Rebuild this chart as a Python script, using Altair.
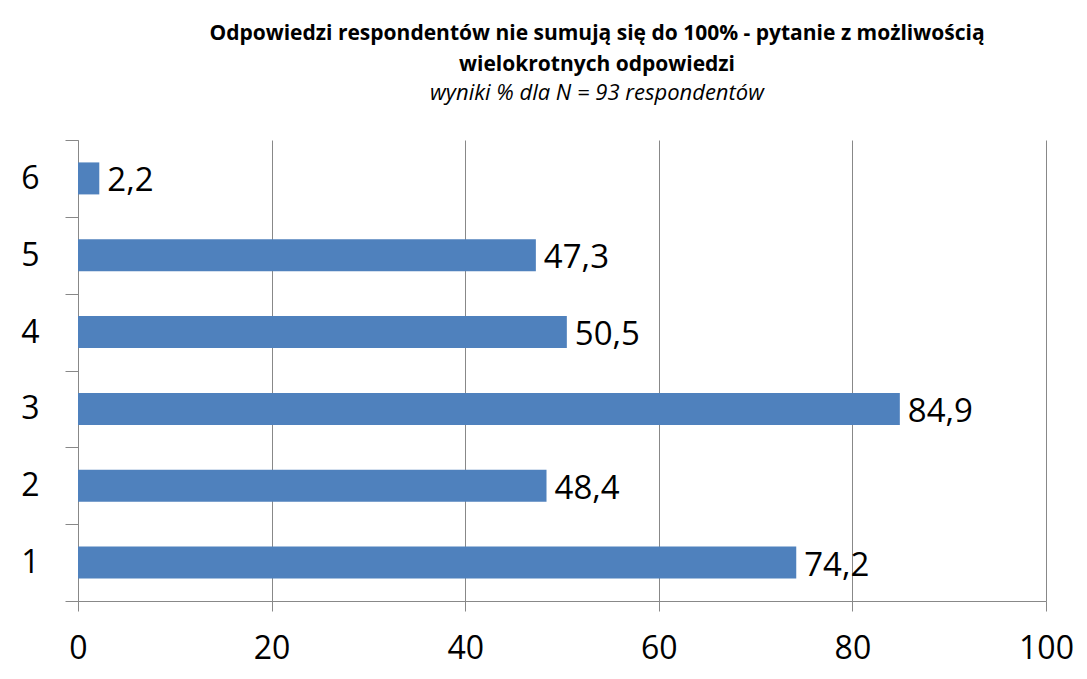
import altair as alt
import pandas as pd

categories = ["1", "2", "3", "4", "5", "6"]
values = [74.2, 48.4, 84.9, 50.5, 47.3, 2.2]
x_ticks = [0, 20, 40, 60, 80, 100]

df = pd.DataFrame({
    "cat": categories,
    "val": values,
    "label": [f"{v:.1f}".replace(".", ",") for v in values],
})

FONT = "Open Sans"
order = list(reversed(categories))

y = alt.Y(
    "cat:N",
    sort=order,
    scale=alt.Scale(paddingInner=0, paddingOuter=0),
    axis=alt.Axis(
        title=None, tickBand="extent", tickSize=13, tickColor="#888888",
        domainColor="#888888", labelFontSize=32, labelFont=FONT,
        labelColor="#000000", labelPadding=26, grid=False, labelAngle=0,
    ),
)
x = alt.X(
    "val:Q",
    scale=alt.Scale(domain=[0, 100], nice=False),
    axis=alt.Axis(
        title=None, values=x_ticks, tickSize=10, tickColor="#888888",
        domainColor="#888888", gridColor="#888888", grid=True,
        labelFontSize=32, labelFont=FONT, labelColor="#000000",
        labelPadding=22, format="d", labelFlush=False,
    ),
)

bars = alt.Chart(df).mark_bar(color="#4F81BD", size=32).encode(x=x, y=y)
labels = alt.Chart(df).mark_text(
    align="left", baseline="middle", dx=8, dy=3, fontSize=33, font=FONT, color="#000000"
).encode(x="val:Q", y=alt.Y("cat:N", sort=order), text="label:N")

chart = (bars + labels).properties(
    width=968,
    height=461,
    title=alt.TitleParams(
        text=["Odpowiedzi  respondentów nie sumują się do 100%  - pytanie z możliwością",
              "wielokrotnych odpowiedzi"],
        subtitle="wyniki % dla N = 93 respondentów",
        font=FONT, fontSize=21, fontWeight="bold", lineHeight=31,
        subtitleFont=FONT, subtitleFontSize=22, subtitleFontStyle="italic",
        subtitleColor="#000000", color="#000000", subtitlePadding=8,
        anchor="middle", dx=35, offset=20,
    ),
    autosize=alt.AutoSizeParams(type="none"),
    padding={"left": 70, "top": 132, "right": 33, "bottom": 70},
    background="#FFFFFF",
).configure_view(stroke=None)

chart.save("out.html", embed_options={"renderer": "svg", "actions": False})
